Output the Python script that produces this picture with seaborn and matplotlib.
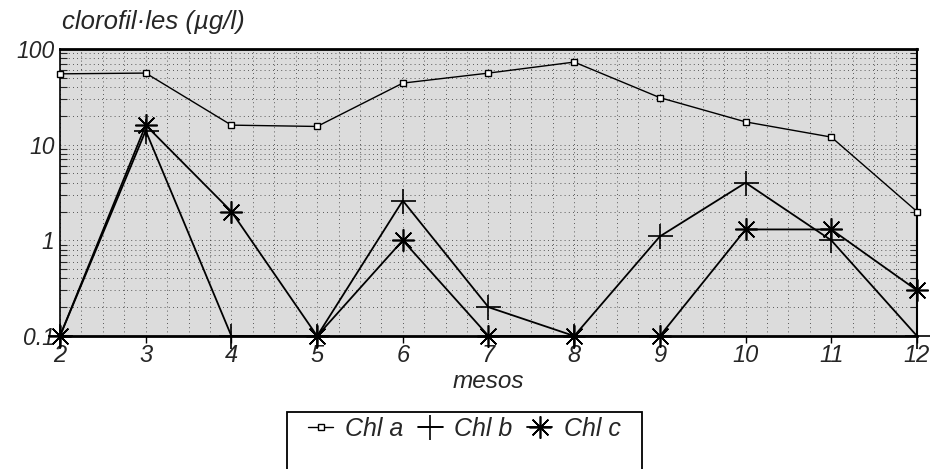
import matplotlib
matplotlib.use("Agg")
import matplotlib.pyplot as plt
import seaborn as sns
import pandas as pd
import numpy as np
from matplotlib.ticker import NullFormatter, LogLocator, MultipleLocator
from matplotlib.patches import Rectangle

months = [2, 3, 4, 5, 6, 7, 8, 9, 10, 11, 12]
chl_a = [55, 56, 16, 15.5, 44, 56, 73, 31, 17.3, 12, 2.0]
chl_b = [0.1, 14, 0.1, 0.1, 2.6, 0.2, 0.1, 1.1, 4.0, 1.0, 0.1]
chl_c = [0.1, 16, 2.0, 0.1, 1.0, 0.1, 0.1, 0.1, 1.3, 1.3, 0.3]
series_names = ["Chl a", "Chl b", "Chl c"]
y_ticks = [0.1, 1, 10, 100]
y_ticklabels = ["0.1", "1", "10", "100"]

sns.set_theme(style="white")
plt.rcParams['font.family'] = ['Liberation Sans', 'DejaVu Sans']

df = pd.DataFrame({"mes": months * 3,
                   "valor": chl_a + chl_b + chl_c,
                   "serie": [series_names[0]] * len(months) + [series_names[1]] * len(months) + [series_names[2]] * len(months)})

W, H = 937, 469
fig = plt.figure(figsize=(W/100, H/100), dpi=100)
ax = fig.add_axes([60/W, 1-336/H, (917-60)/W, (336-49)/H])
ax.set_facecolor('#dcdcdc')

markers = {"Chl a": "s", "Chl b": "+", "Chl c": (8, 2, 0)}
sizes = {"Chl a": 4.5, "Chl b": 18, "Chl c": 16}
widths = {"Chl a": 1.0, "Chl b": 1.3, "Chl c": 1.3}
for name in series_names:
    sub = df[df.serie == name]
    sns.lineplot(data=sub, x="mes", y="valor", ax=ax, color='black',
                 linewidth=widths[name], marker=markers[name], markersize=sizes[name],
                 markerfacecolor='white' if name == "Chl a" else 'black',
                 markeredgecolor='black', markeredgewidth=1.0 if name == "Chl a" else 1.2,
                 label=name, clip_on=False, zorder=3)

handles, labels = ax.get_legend_handles_labels()
if ax.get_legend() is not None:
    ax.get_legend().remove()

ax.set_yscale('log')
ax.set_ylim(0.1, 100)
ax.set_xlim(2, 12)
ax.set_yticks(y_ticks)
ax.set_yticklabels(y_ticklabels)
ax.yaxis.set_minor_locator(LogLocator(base=10, subs=np.arange(2, 10)))
ax.yaxis.set_minor_formatter(NullFormatter())
ax.set_xticks(months)
ax.set_xticklabels([str(m) for m in months])
ax.xaxis.set_minor_locator(MultipleLocator(0.25))

ax.grid(which='both', axis='both', color='black', linestyle=(0, (1, 4)), linewidth=0.6, alpha=0.8)
ax.set_axisbelow(True)

for lab in ax.get_xticklabels():
    lab.set_fontstyle('italic')
    lab.set_fontsize(17)
for lab in ax.get_yticklabels():
    lab.set_fontstyle('italic')
    lab.set_fontsize(16.5)
ax.tick_params(axis='x', which='major', length=5, width=1, direction='out', pad=1, bottom=True, color='black')
ax.tick_params(axis='x', which='minor', length=0)
ax.tick_params(axis='y', which='minor', left=True, right=True, direction='in', length=5, width=0.8)
ax.tick_params(axis='y', which='major', left=True, right=True, direction='in', length=0, pad=4,
               labelleft=True, labelright=False)

for s in ax.spines.values():
    s.set_color('black')
ax.spines['top'].set_linewidth(2)
ax.spines['bottom'].set_linewidth(2)
ax.spines['right'].set_linewidth(1.5)
ax.spines['left'].set_linewidth(1.2)

ax.set_xlabel("")
ax.set_ylabel("")
fig.text(488/W, 1-381/H, "mesos", fontsize=17.5, fontstyle='italic', va='center', ha='center')
fig.text(62/W, 1-22/H, "clorofil·les (µg/l)", fontsize=18.5, fontstyle='italic', va='center', ha='left')

leg = fig.legend(handles, labels, loc='center', bbox_to_anchor=(464.5/W, 1-429/H), ncol=3,
                 frameon=False, handlelength=1.0, handletextpad=0.45, columnspacing=0.6,
                 prop={'style': 'italic', 'size': 18})
fig.patches.append(Rectangle((287/W, -0.05), (642-287)/W, (1-412/H) + 0.05,
                             transform=fig.transFigure, fill=False, edgecolor='black',
                             linewidth=1.3, clip_on=False))

fig.savefig("out.png", dpi=100, facecolor='white')
